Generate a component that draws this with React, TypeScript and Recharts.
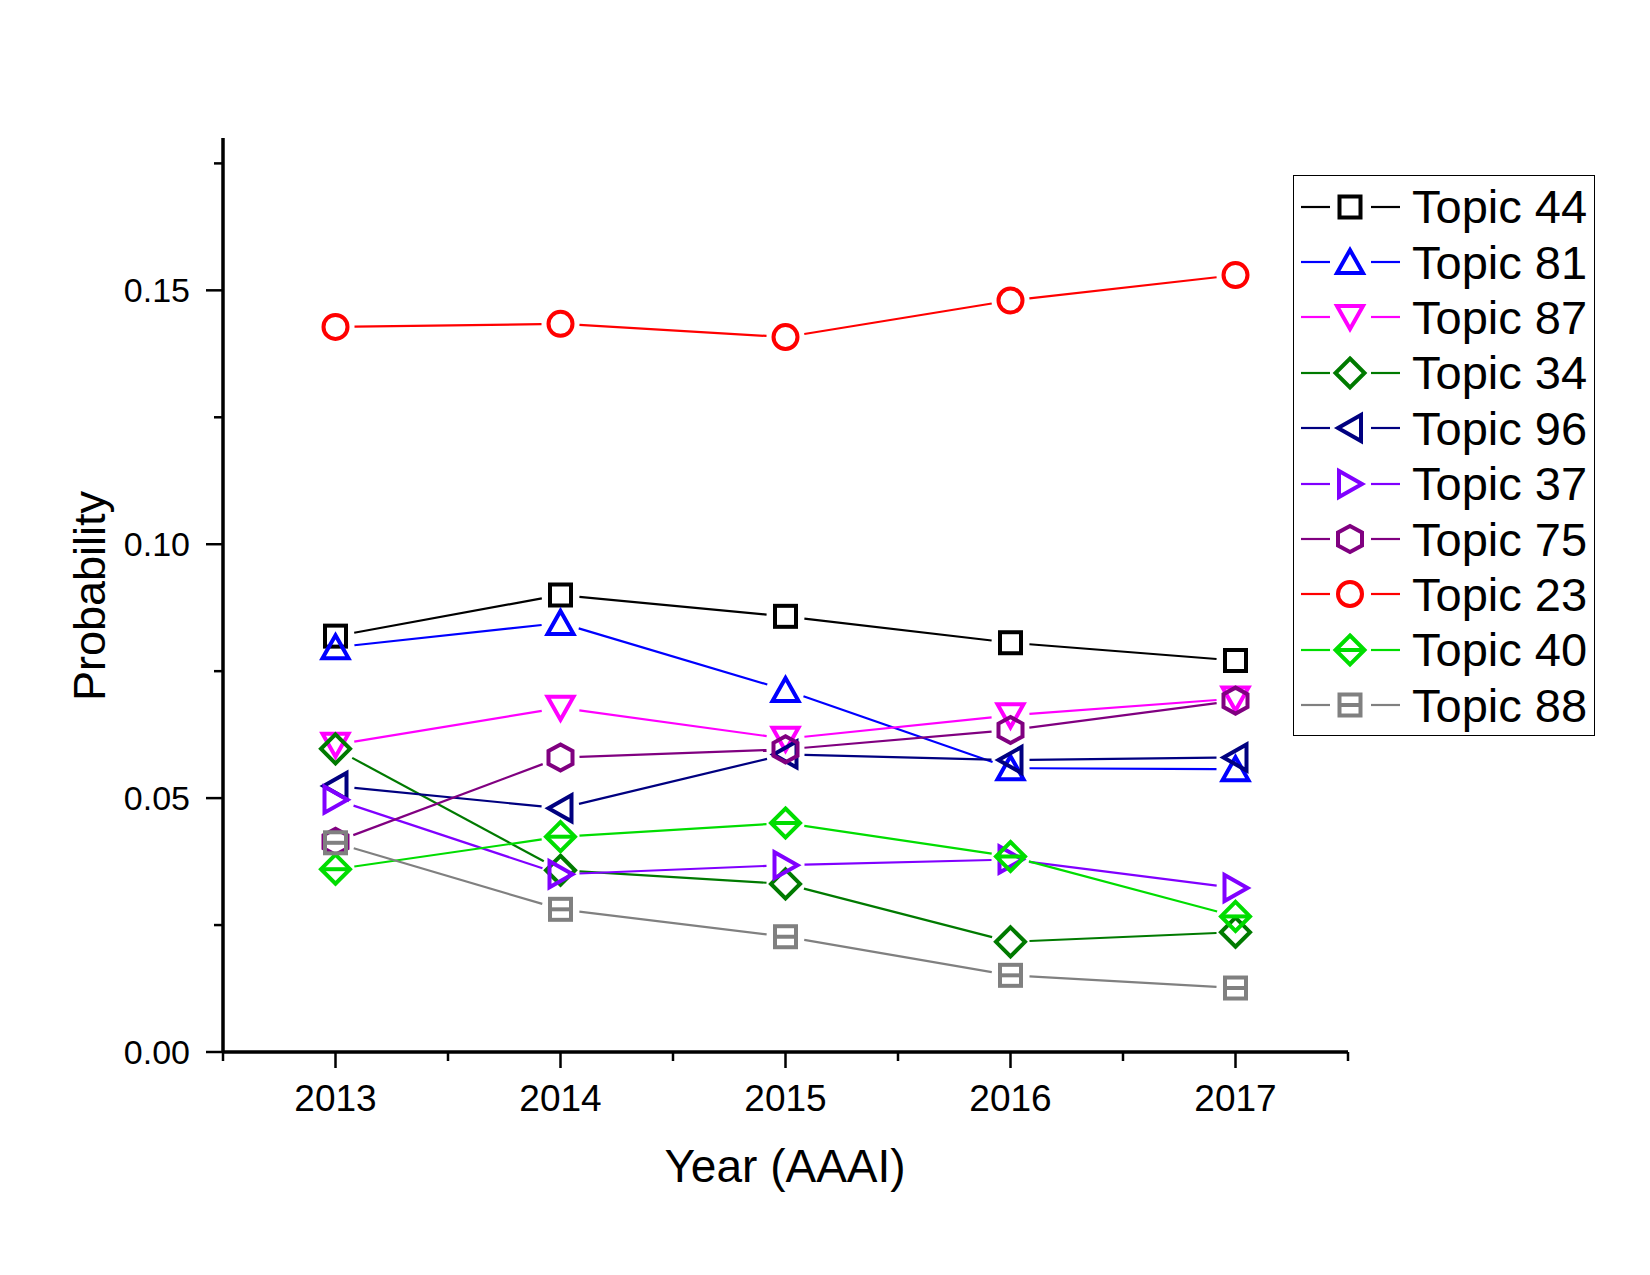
import React from 'react';
import { LineChart, Line, XAxis, YAxis, Legend } from 'recharts';

const years = [2013, 2014, 2015, 2016, 2017];
const xTicks = [2012.5, 2013, 2013.5, 2014, 2014.5, 2015, 2015.5, 2016, 2016.5, 2017, 2017.5];
const yTicks = [0, 0.025, 0.05, 0.075, 0.1, 0.125, 0.15, 0.175];
const yLabels = ['0.00', '0.05', '0.10', '0.15'];

const topic44 = [0.0819, 0.0900, 0.0858, 0.0806, 0.0771];
const topic81 = [0.0797, 0.0845, 0.0713, 0.0559, 0.0557];
const topic87 = [0.0605, 0.0678, 0.0617, 0.0663, 0.0696];
const topic34 = [0.0597, 0.0358, 0.0331, 0.0217, 0.0236];
const topic96 = [0.0524, 0.0480, 0.0586, 0.0575, 0.0580];
const topic37 = [0.0497, 0.0350, 0.0368, 0.0379, 0.0323];
const topic75 = [0.0414, 0.0580, 0.0596, 0.0634, 0.0692];
const topic23 = [0.1428, 0.1434, 0.1408, 0.1480, 0.1530];
const topic40 = [0.0360, 0.0424, 0.0451, 0.0385, 0.0267];
const topic88 = [0.0412, 0.0281, 0.0227, 0.0151, 0.0126];

const series = [
  { key: 't44', name: 'Topic 44', color: '#000000', shape: 'square', values: topic44 },
  { key: 't81', name: 'Topic 81', color: '#0000FF', shape: 'up', values: topic81 },
  { key: 't87', name: 'Topic 87', color: '#FF00FF', shape: 'down', values: topic87 },
  { key: 't34', name: 'Topic 34', color: '#007A00', shape: 'diamond', values: topic34 },
  { key: 't96', name: 'Topic 96', color: '#000080', shape: 'left', values: topic96 },
  { key: 't37', name: 'Topic 37', color: '#8000FF', shape: 'right', values: topic37 },
  { key: 't75', name: 'Topic 75', color: '#800080', shape: 'hex', values: topic75 },
  { key: 't23', name: 'Topic 23', color: '#FF0000', shape: 'circle', values: topic23 },
  { key: 't40', name: 'Topic 40', color: '#00DD00', shape: 'diamondbar', values: topic40 },
  { key: 't88', name: 'Topic 88', color: '#808080', shape: 'squarebar', values: topic88 },
];

const data = years.map((year, i) => {
  const row: any = { year };
  series.forEach((s) => { row[s.key] = s.values[i]; });
  return row;
});

const FONT = '"Liberation Sans", Arial, sans-serif';
const LEFT = 223;
const BOTTOM = 1052;
const GAP = 19;

const Marker = ({ shape, cx, cy, color }: { shape: string; cx: number; cy: number; color: string }) => {
  const p = { fill: 'none', stroke: color, strokeWidth: 4, strokeLinejoin: 'miter' as const };
  switch (shape) {
    case 'square':
      return <rect x={cx - 10.5} y={cy - 10.5} width={21} height={21} {...p} />;
    case 'squarebar':
      return (
        <g>
          <rect x={cx - 10.5} y={cy - 10.5} width={21} height={21} {...p} />
          <line x1={cx - 10.5} x2={cx + 10.5} y1={cy} y2={cy} {...p} />
        </g>
      );
    case 'up':
      return <polygon points={`${cx},${cy - 12} ${cx + 13},${cy + 11} ${cx - 13},${cy + 11}`} {...p} />;
    case 'down':
      return <polygon points={`${cx},${cy + 12} ${cx + 13},${cy - 11} ${cx - 13},${cy - 11}`} {...p} />;
    case 'left':
      return <polygon points={`${cx - 12},${cy} ${cx + 11},${cy - 13} ${cx + 11},${cy + 13}`} {...p} />;
    case 'right':
      return <polygon points={`${cx + 12},${cy} ${cx - 11},${cy - 13} ${cx - 11},${cy + 13}`} {...p} />;
    case 'diamond':
      return <polygon points={`${cx},${cy - 14.5} ${cx + 14.5},${cy} ${cx},${cy + 14.5} ${cx - 14.5},${cy}`} {...p} />;
    case 'diamondbar':
      return (
        <g>
          <polygon points={`${cx},${cy - 14.5} ${cx + 14.5},${cy} ${cx},${cy + 14.5} ${cx - 14.5},${cy}`} {...p} />
          <line x1={cx - 14.5} x2={cx + 14.5} y1={cy} y2={cy} {...p} />
        </g>
      );
    case 'hex':
      return (
        <polygon
          points={`${cx},${cy - 13} ${cx + 12},${cy - 6.5} ${cx + 12},${cy + 6.5} ${cx},${cy + 13} ${cx - 12},${cy + 6.5} ${cx - 12},${cy - 6.5}`}
          {...p}
        />
      );
    default:
      return <circle cx={cx} cy={cy} r={12} {...p} />;
  }
};

// marker plus the line segment to the next point, with a gap at both ends
const Dot = (props: any) => {
  const { cx, cy, index, points, s } = props;
  const next = Array.isArray(points) ? points[index + 1] : null;
  let seg = null;
  if (next) {
    const dx = next.x - cx;
    const dy = next.y - cy;
    const len = Math.hypot(dx, dy);
    const ux = dx / len;
    const uy = dy / len;
    seg = (
      <line
        x1={cx + ux * GAP}
        y1={cy + uy * GAP}
        x2={next.x - ux * GAP}
        y2={next.y - uy * GAP}
        stroke={s.color}
        strokeWidth={2.2}
      />
    );
  }
  return (
    <g>
      {seg}
      <Marker shape={s.shape} cx={cx} cy={cy} color={s.color} />
    </g>
  );
};

const XTick = (props: any) => {
  const { x, payload } = props;
  const major = Number.isInteger(payload.value);
  return (
    <g>
      <line x1={x} x2={x} y1={BOTTOM} y2={BOTTOM + (major ? 16 : 9)} stroke="#000" strokeWidth={2.5} />
      {major && (
        <text x={x} y={BOTTOM + 59} textAnchor="middle" fontFamily={FONT} fontSize={37} fill="#000">
          {payload.value}
        </text>
      )}
    </g>
  );
};

const YTick = (props: any) => {
  const { y, payload } = props;
  const idx = Math.round(payload.value / 0.025);
  const major = idx % 2 === 0;
  return (
    <g>
      <line x1={LEFT} x2={LEFT - (major ? 17 : 9)} y1={y} y2={y} stroke="#000" strokeWidth={2.5} />
      {major && (
        <text x={LEFT - 33} y={y + 12} textAnchor="end" fontFamily={FONT} fontSize={34} fill="#000">
          {yLabels[idx / 2]}
        </text>
      )}
    </g>
  );
};

const LegendBox = () => (
  <div style={{ width: 302, height: 561, border: '1px solid #000', background: '#fff', boxSizing: 'border-box', paddingTop: 3 }}>
    {series.map((s) => (
      <div key={s.key} style={{ height: 55.4, display: 'flex', alignItems: 'center' }}>
        <svg width={118} height={50} style={{ flex: 'none' }}>
          <line x1={7} x2={36} y1={25} y2={25} stroke={s.color} strokeWidth={2.2} />
          <line x1={77} x2={106} y1={25} y2={25} stroke={s.color} strokeWidth={2.2} />
          <Marker shape={s.shape} cx={56} cy={25} color={s.color} />
        </svg>
        <span style={{ fontFamily: FONT, fontSize: 47, color: '#000', lineHeight: 1 }}>{s.name}</span>
      </div>
    ))}
  </div>
);

export default function App() {
  return (
    <div style={{ position: 'absolute', left: 0, top: 0, width: 1650, height: 1275, background: '#fff' }}>
      <LineChart width={1650} height={1275} data={data} margin={{ top: 138, right: 302, left: 123, bottom: 163 }}>
        <XAxis
          dataKey="year"
          type="number"
          domain={[2012.5, 2017.5]}
          ticks={xTicks}
          interval={0}
          height={60}
          axisLine={{ stroke: '#000', strokeWidth: 3.5 }}
          tickLine={false}
          tick={<XTick />}
          allowDataOverflow
        />
        <XAxis xAxisId="top" orientation="top" dataKey="year" type="number" domain={[2012.5, 2017.5]} height={0} tick={false} tickLine={false} axisLine={{ stroke: '#000', strokeWidth: 1.5 }} />
        <YAxis
          type="number"
          domain={[0, 0.18]}
          ticks={yTicks}
          interval={0}
          width={100}
          axisLine={{ stroke: '#000', strokeWidth: 3.5 }}
          tickLine={false}
          tick={<YTick />}
          allowDataOverflow
        />
        <YAxis yAxisId="right" orientation="right" domain={[0, 0.18]} width={0} tick={false} tickLine={false} axisLine={{ stroke: '#000', strokeWidth: 1.5 }} />
        <Legend
          layout="vertical"
          align="center"
          verticalAlign="middle"
          wrapperStyle={{ position: 'absolute', left: 1293, top: 175, width: 302 }}
          content={() => <LegendBox />}
        />
        {series.map((s) => (
          <Line
            key={s.key}
            dataKey={s.key}
            name={s.name}
            stroke="none"
            strokeWidth={0}
            isAnimationActive={false}
            dot={(props: any) => <Dot key={`${s.key}-${props.index}`} {...props} s={s} />}
            activeDot={false}
          />
        ))}
        <text x={89} y={596} transform="rotate(-90 89 596)" textAnchor="middle" dominantBaseline="central" fontFamily={FONT} fontSize={45} fill="#000">
          Probability
        </text>
        <text x={785} y={1182} textAnchor="middle" fontFamily={FONT} fontSize={46} fill="#000">
          Year (AAAI)
        </text>
      </LineChart>
    </div>
  );
}
